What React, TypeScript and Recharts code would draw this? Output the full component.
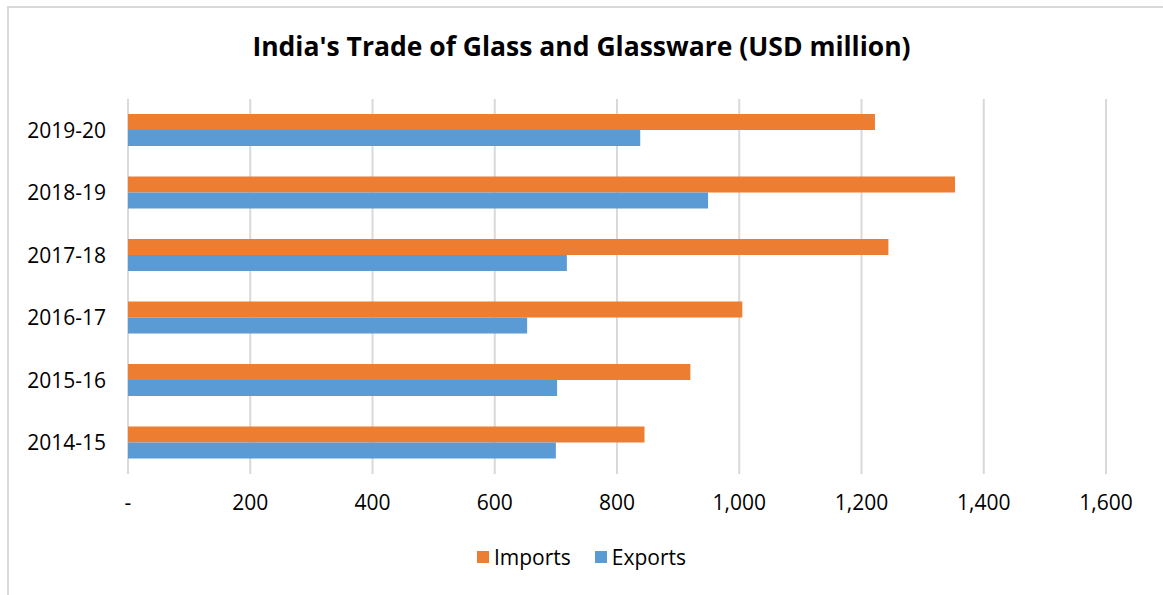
import { BarChart, Bar, XAxis, YAxis, CartesianGrid } from 'recharts';

const years = ['2019-20', '2018-19', '2017-18', '2016-17', '2015-16', '2014-15'];
const imports = [1222, 1353, 1244, 1005, 920, 845];
const exports = [838, 949, 718, 653, 702, 700];
const xTicks = [0, 200, 400, 600, 800, 1000, 1200, 1400, 1600];

const data = years.map((y, i) => ({ year: y, Imports: imports[i], Exports: exports[i] }));

const FONT = '"Open Sans", sans-serif';
const ORANGE = '#ED7D31';
const BLUE = '#5B9BD5';
const GRID = '#d9d9d9';

const fmt = (v: number) => (v === 0 ? '-' : v.toLocaleString('en-US'));

const legendItems = [
  { name: 'Imports', color: ORANGE },
  { name: 'Exports', color: BLUE },
];

const App = () => {
  return (
    <div style={{ position: 'absolute', left: 0, top: 0, width: 1163, height: 595, background: '#fff', overflow: 'hidden', fontFamily: FONT }}>
      {/* outer frame, only top and left edges show in the shot */}
      <div style={{ position: 'absolute', left: 7, top: 6, width: 1200, height: 640, border: `2px solid ${GRID}` }} />
      <div style={{ position: 'absolute', top: 28, left: 0, width: 1163, textAlign: 'center', fontSize: 26.5, fontWeight: 700, color: '#000' }}>
        India's Trade of Glass and Glassware (USD million)
      </div>
      <div style={{ position: 'absolute', left: 0, top: 0 }}>
        <BarChart
          width={1163}
          height={595}
          data={data}
          layout="vertical"
          margin={{ top: 99, right: 57, bottom: 91, left: 0 }}
          barCategoryGap="24%"
          barGap={0}
        >
          <CartesianGrid horizontal={false} stroke={GRID} strokeWidth={2} />
          <XAxis
            type="number"
            domain={[0, 1600]}
            ticks={xTicks}
            tickFormatter={fmt}
            axisLine={false}
            tickLine={false}
            tickSize={0}
            tickMargin={21}
            height={30}
            tick={{ fill: '#000', fontSize: 21, fontFamily: FONT }}
            interval={0}
          />
          <YAxis
            type="category"
            dataKey="year"
            width={128}
            axisLine={false}
            tickLine={false}
            tickSize={0}
            tickMargin={22}
            tick={{ fill: '#000', fontSize: 21, fontFamily: FONT }}
          />
          <Bar dataKey="Imports" fill={ORANGE} isAnimationActive={false} />
          <Bar dataKey="Exports" fill={BLUE} isAnimationActive={false} />
        </BarChart>
      </div>
      <div style={{ position: 'absolute', top: 543, left: 0, width: 1163, display: 'flex', justifyContent: 'center', gap: 24, fontSize: 21, color: '#000' }}>
        {legendItems.map((it) => (
          <div key={it.name} style={{ display: 'flex', alignItems: 'center', gap: 5 }}>
            <span style={{ width: 12, height: 12, background: it.color, display: 'inline-block' }} />
            <span>{it.name}</span>
          </div>
        ))}
      </div>
    </div>
  );
};

export default App;
